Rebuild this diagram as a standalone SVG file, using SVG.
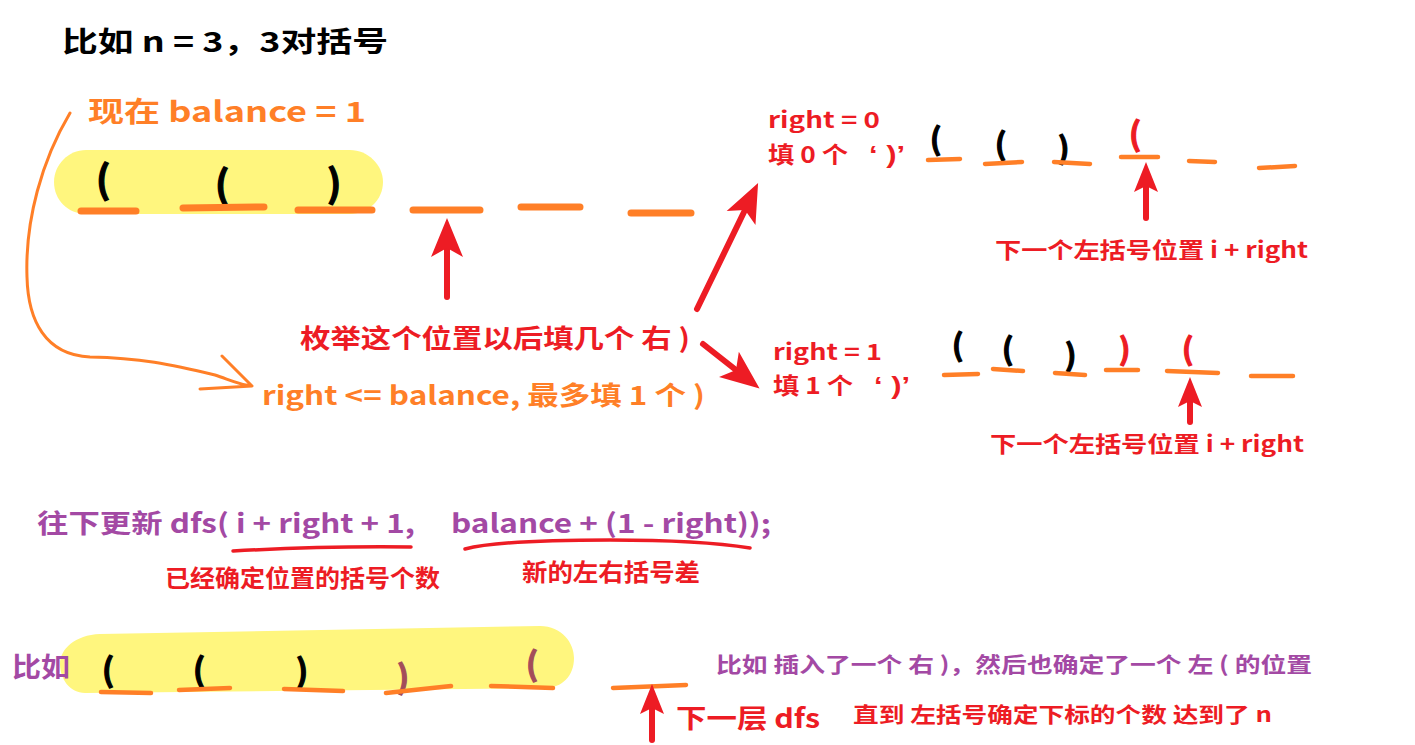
<svg xmlns="http://www.w3.org/2000/svg" width="1415" height="745" viewBox="0 0 1415 745">
<style>
text{font-family:"Noto Sans CJK SC","Microsoft YaHei",sans-serif;font-weight:700}
.q{font-family:"Liberation Sans","Noto Sans CJK SC",sans-serif}
.blk{fill:#000}
.org{fill:#FF7F27}
.red{fill:#ED1C24}
.pur{fill:#A349A4}
.brn{fill:#A34D5A}
.br{stroke-width:1.2}
.blk.br{stroke:#000}
.red.br{stroke:#ED1C24}
.brn.br{stroke:#A34D5A}
.dash{stroke:#FF7F27;stroke-linecap:round;fill:none}
.d1{stroke-width:7}
.d2{stroke-width:4.5}
.shaft{stroke:#ED1C24;stroke-width:6;stroke-linecap:round;fill:none}
.ul{stroke:#ED1C24;stroke-width:3.5;stroke-linecap:round;fill:none}
.pill{fill:#FFF67E}
</style>
<defs>
<marker id="bigHead" markerUnits="userSpaceOnUse" viewBox="-12 -20 46 40" markerWidth="46" markerHeight="40" refX="0" refY="0" orient="auto">
<path d="M30,0 L-9,-16 L0,0 L-9,16 Z" fill="#ED1C24"/>
</marker>
<marker id="smallHead" markerUnits="userSpaceOnUse" viewBox="-10 -14 38 28" markerWidth="38" markerHeight="28" refX="0" refY="0" orient="auto">
<path d="M24,0 L-6,-12 L0,0 L-6,12 Z" fill="#ED1C24"/>
</marker>
</defs>
<rect width="1415" height="745" fill="#fff"/>

<g id="title"><text class="blk" x="62" y="52" font-size="28" textLength="326" lengthAdjust="spacingAndGlyphs">比如 n = 3，3对括号</text></g>

<g id="row1">
<path class="pill" d="M86,150 L350,150 C368,150 383,165 383,182 C383,200 368,214 350,214 L86,214 C68,214 54,200 54,182 C54,165 68,150 86,150 Z"/>
<text class="org" x="88" y="122" font-size="28" textLength="278" lengthAdjust="spacingAndGlyphs">现在 balance = 1</text>
<text class="blk br" x="96" y="193" font-size="38">(</text>
<text class="blk br" x="215" y="198" font-size="38">(</text>
<text class="blk br" x="327" y="197" font-size="38">)</text>
<path class="dash d1" d="M81,211 L136,211 M183,208 L264,207 M298,210 L372,210 M413,210 L480,210 M521,207 L580,207 M631,213 L691,213"/>
</g>

<g id="labels-mid">
<text class="red" x="300" y="348" font-size="26" textLength="390" lengthAdjust="spacingAndGlyphs">枚举这个位置以后填几个 右 )</text>
<text class="org" x="262" y="405" font-size="26" textLength="443" lengthAdjust="spacingAndGlyphs">right &lt;= balance, 最多填 1 个 )</text>
</g>

<g id="row-right0">
<text class="red" x="768" y="128" font-size="22" textLength="112" lengthAdjust="spacingAndGlyphs">right = 0</text>
<text class="red" x="768" y="163" font-size="23" textLength="80" lengthAdjust="spacingAndGlyphs">填 0 个</text>
<text class="red q" x="869" y="163" font-size="24" textLength="36" lengthAdjust="spacingAndGlyphs">‘ )’</text>
<text class="blk br" x="930" y="150" font-size="30">(</text>
<text class="blk br" x="995" y="155" font-size="30">(</text>
<text class="blk br" x="1058" y="159" font-size="30">)</text>
<text class="red br" x="1129" y="146" font-size="32">(</text>
<path class="dash d2" d="M928,160 L960,159 M985,164 L1022,162 M1054,162 L1090,164 M1121,157 L1158,157 M1189,161 L1215,162 M1259,168 L1295,166"/>
<text class="red" x="995" y="258" font-size="22" textLength="313" lengthAdjust="spacingAndGlyphs">下一个左括号位置 i + right</text>
</g>

<g id="row-right1">
<text class="red" x="773" y="360" font-size="22" textLength="109" lengthAdjust="spacingAndGlyphs">right = 1</text>
<text class="red" x="773" y="394" font-size="23" textLength="80" lengthAdjust="spacingAndGlyphs">填 1 个</text>
<text class="red q" x="874" y="394" font-size="24" textLength="36" lengthAdjust="spacingAndGlyphs">‘ )’</text>
<text class="blk br" x="952" y="356" font-size="30">(</text>
<text class="blk br" x="1002" y="360" font-size="30">(</text>
<text class="blk br" x="1065" y="366" font-size="30">)</text>
<text class="red br" x="1119" y="360" font-size="30">)</text>
<text class="red br" x="1182" y="360" font-size="30">(</text>
<path class="dash d2" d="M944,375 L978,374 M993,369 L1023,371 M1055,373 L1085,375 M1106,370 L1138,370 M1167,371 L1218,373 M1251,376 L1293,376"/>
<text class="red" x="990" y="452" font-size="22" textLength="314" lengthAdjust="spacingAndGlyphs">下一个左括号位置 i + right</text>
</g>

<g id="dfs-update">
<text class="pur" x="37" y="533" font-size="26" textLength="378" lengthAdjust="spacingAndGlyphs">往下更新 dfs( i + right + 1,</text>
<text class="pur" x="451" y="533" font-size="26" textLength="320" lengthAdjust="spacingAndGlyphs">balance + (1 - right));</text>
<path class="ul" d="M233,551 Q320,546 411,547"/>
<path class="ul" d="M465,549 Q500,540 610,540 Q700,540 750,548"/>
<text class="red" x="165" y="587" font-size="24" textLength="275" lengthAdjust="spacingAndGlyphs">已经确定位置的括号个数</text>
<text class="red" x="522" y="581" font-size="24" textLength="178" lengthAdjust="spacingAndGlyphs">新的左右括号差</text>
</g>

<g id="row-bottom">
<path class="pill" d="M100,634 L540,626 C562,626 574,643 574,658 C574,676 562,688 545,688 L85,693 C70,693 60,679 60,664 C60,649 75,635 100,634 Z"/>
<text class="pur" x="12" y="677" font-size="27" textLength="58" lengthAdjust="spacingAndGlyphs">比如</text>
<text class="blk br" x="102" y="682" font-size="32">(</text>
<text class="blk br" x="193" y="682" font-size="32">(</text>
<text class="blk br" x="296" y="683" font-size="32">)</text>
<text class="brn br" x="397" y="689" font-size="32">)</text>
<text class="brn br" x="526" y="676" font-size="32">(</text>
<path class="dash d2" d="M101,692 L151,693 M179,690 L230,688 M284,689 L343,691 M386,693 L451,686 M491,686 L553,688 M613,688 L686,685"/>
<text class="red" x="676" y="728" font-size="26" textLength="144" lengthAdjust="spacingAndGlyphs">下一层 dfs</text>
<text class="pur" x="716" y="672" font-size="21" textLength="596" lengthAdjust="spacingAndGlyphs">比如 插入了一个 右 )，然后也确定了一个 左 ( 的位置</text>
<text class="red" x="853" y="722" font-size="21" textLength="419" lengthAdjust="spacingAndGlyphs">直到 左括号确定下标的个数 达到了 n</text>
</g>

<g id="connectors">
<path d="M70,113 C42,160 25,220 27,277 C28,320 45,355 90,357 C140,358 170,364 215,375 C230,380 240,385 252,386 M222,356 L252,386 L200,389" fill="none" stroke="#FF7F27" stroke-width="3" stroke-linecap="round" stroke-linejoin="round"/>
<line class="shaft" x1="447" y1="297" x2="447" y2="248" marker-end="url(#bigHead)"/>
<line class="shaft" x1="697" y1="309" x2="745" y2="210" marker-end="url(#bigHead)"/>
<line class="shaft" x1="703" y1="344" x2="736" y2="370" marker-end="url(#bigHead)"/>
<line class="shaft" x1="1146" y1="218" x2="1146" y2="186" marker-end="url(#smallHead)"/>
<line class="shaft" x1="1190" y1="422" x2="1190" y2="401" marker-end="url(#smallHead)"/>
<line class="shaft" x1="652" y1="740" x2="652" y2="708" marker-end="url(#smallHead)"/>
</g>
</svg>
